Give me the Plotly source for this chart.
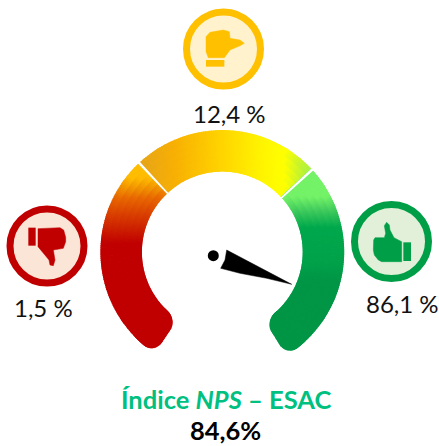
import math
import plotly.graph_objects as go

# ---- chart values ----
categories = ["Detratores", "Neutros", "Promotores"]
shares = ["1,5 %", "12,4 %", "86,1 %"]
share_label_xy = [(43, 307), (229.5, 113), (402, 303)]
title_parts = "Índice <i>NPS</i> – ESAC"
nps_value = "84,6%"

# gauge geometry, degrees counter-clockwise from east, px radii
gauge_center = (222.3, 252)
gauge_inner, gauge_outer = 81, 121.3
gauge_start, gauge_end = 236, -58
segment_edges = [133, 42.5]
corner = 13

# colour ramps: (pixel position, colour)
red_ramp = [(160, "#FFC000"), (177, "#FFBC00"), (188, "#F09000"), (197, "#E86800"), (215, "#D83C00"), (243, "#C00000"), (360, "#C00000")]
yellow_ramp = [(138, "#E4A41C"), (175, "#F8B004"), (222, "#FFD400"), (262, "#FFF400"), (285, "#FFFF00"), (300, "#C8F42C"), (315, "#98F050")]
green_ramp = [(165, "#74F268"), (197, "#74F268"), (212, "#3CC85C"), (228, "#00A84C"), (262, "#00A24A"), (282, "#009646"), (360, "#009646")]

circle_centers = [(47, 246), (223.5, 49), (391.5, 241.5)]
circle_radius = 37
circle_fill = ["#FBE5D6", "#FFF2CC", "#E2F0D9"]
circle_edge = ["#C00000", "#FFC000", "#009E47"]

# icon outlines in the 3x crop coordinates
icon_origin = [(0, 200), (180, 5), (345, 195)]
icon_hands = [
    [(114, 86), (180, 83), (191, 90), (197, 112), (197, 125), (190, 145), (160, 150), (165, 180), (160, 197), (150, 195), (147, 180), (130, 160), (114, 140)],
    [(78, 95), (90, 82), (130, 75), (148, 80), (150, 100), (180, 105), (193, 115), (180, 122), (150, 135), (133, 158), (85, 158), (78, 140)],
    [(118, 92), (125, 82), (133, 90), (135, 105), (147, 128), (170, 140), (170, 200), (110, 200), (100, 195), (88, 180), (85, 165), (86, 135), (90, 128), (118, 128), (122, 115)],
]
icon_cuffs = [(85, 83, 107, 137), (78, 165, 133, 185), (175, 142, 198, 198)]

needle_x = [226.7, 291.7, 266.7, 240, 220.7, 225, 226.7]
needle_y = [250, 284.3, 278.3, 273.3, 268.3, 260, 250]
hub = (213.3, 255.7)
hub_radius = 5.5


def hex2rgb(h):
    return tuple(int(h[i:i + 2], 16) for i in (1, 3, 5))


def ramp(stops, v):
    if v <= stops[0][0]:
        return stops[0][1]
    for (a, ca), (b, cb) in zip(stops, stops[1:]):
        if v <= b:
            t = (v - a) / (b - a)
            A, B = hex2rgb(ca), hex2rgb(cb)
            return "#%02X%02X%02X" % tuple(round(p + (q - p) * t) for p, q in zip(A, B))
    return stops[-1][1]


def inset(deg_from_end, radius):
    d = deg_from_end * math.pi / 180 * radius
    if d >= corner:
        return 0.0
    return corner - math.sqrt(corner ** 2 - (corner - d) ** 2)


theta, base, height, width, colors = [], [], [], [], []
n_radial = 6
edge_zone = 12  # degrees with fine slices at each rounded end
angles = []
a = gauge_start
while a > gauge_end + 1e-6:
    s = 0.25 if (gauge_start - a < edge_zone or a - gauge_end < edge_zone) else 1.0
    angles.append((a - s / 2, s))
    a -= s

for th, s in angles:
    gap = min(gauge_start - th, th - gauge_end)
    r0 = gauge_inner + inset(gap, gauge_inner)
    r1 = gauge_outer - inset(gap, gauge_outer)
    dr = (r1 - r0) / n_radial
    for j in range(n_radial):
        r = r0 + (j + 0.5) * dr
        x = gauge_center[0] + r * math.cos(math.radians(th))
        y = gauge_center[1] - r * math.sin(math.radians(th))
        if th > segment_edges[0]:
            c = ramp(red_ramp, y)
        elif th > segment_edges[1]:
            c = ramp(yellow_ramp, x)
        else:
            c = ramp(green_ramp, y)
        theta.append(th)
        base.append(r0 + j * dr)
        height.append(dr)
        width.append(s)
        colors.append(c)

fig = go.Figure()
fig.add_trace(go.Barpolar(theta=theta, base=base, r=height, width=width, opacity=1,
                          marker=dict(color=colors, opacity=1, line=dict(color=colors, width=1.2)),
                          hoverinfo="skip", showlegend=False, subplot="polar"))
fig.add_trace(go.Barpolar(theta=segment_edges, base=[gauge_inner - 2] * 2, r=[gauge_outer - gauge_inner + 4] * 2,
                          width=[1.2, 1.2], opacity=1, marker=dict(color="#FFFFFF", opacity=1, line=dict(width=0)),
                          hoverinfo="skip", showlegend=False, subplot="polar"))

fig.add_trace(go.Scatter(x=needle_x, y=needle_y, mode="lines", fill="toself", fillcolor="#000000",
                         line=dict(color="#000000", width=0.5), hoverinfo="skip", showlegend=False))

shapes = [dict(type="circle", xref="x", yref="y", x0=hub[0] - hub_radius, x1=hub[0] + hub_radius,
               y0=hub[1] - hub_radius, y1=hub[1] + hub_radius, fillcolor="#000000", line=dict(width=0))]
for k in range(3):
    cx, cy = circle_centers[k]
    shapes.append(dict(type="circle", xref="x", yref="y", x0=cx - circle_radius, x1=cx + circle_radius,
                       y0=cy - circle_radius, y1=cy + circle_radius, fillcolor=circle_fill[k],
                       line=dict(color=circle_edge[k], width=7), layer="below"))
    ox, oy = icon_origin[k]
    xs = [ox + p[0] / 3 for p in icon_hands[k]]
    ys = [oy + p[1] / 3 for p in icon_hands[k]]
    fig.add_trace(go.Scatter(x=xs + xs[:1], y=ys + ys[:1], mode="lines", fill="toself", fillcolor=circle_edge[k],
                             line=dict(color=circle_edge[k], width=0.5), hoverinfo="skip", showlegend=False))
    a_, b, c_, d = icon_cuffs[k]
    shapes.append(dict(type="rect", xref="x", yref="y", x0=ox + a_ / 3, x1=ox + c_ / 3, y0=oy + b / 3, y1=oy + d / 3,
                       fillcolor=circle_edge[k], line=dict(width=0)))

font = "Lato, Carlito, Calibri, sans-serif"
annotations = [dict(x=x, y=y, xref="x", yref="y", text=t, showarrow=False, xanchor="center", yanchor="middle",
                    font=dict(family=font, size=24, color="#111111"))
               for t, (x, y) in zip(shares, share_label_xy)]
annotations.append(dict(x=225.5, y=399, xref="x", yref="y", text="<b>" + title_parts + "</b>", showarrow=False,
                        font=dict(family=font, size=25.5, color="#00C07F"), xanchor="center", yanchor="middle"))
annotations.append(dict(x=225, y=430, xref="x", yref="y", text="<b>" + nps_value + "</b>", showarrow=False,
                        font=dict(family=font, size=25.5, color="#000000"), xanchor="center", yanchor="middle"))

pad = 125
W, H = 439, 446
fig.update_layout(
    width=W, height=H, margin=dict(l=0, r=0, t=0, b=0), autosize=False,
    paper_bgcolor="#FFFFFF", plot_bgcolor="rgba(0,0,0,0)", showlegend=False,
    xaxis=dict(range=[0, W], visible=False, fixedrange=True),
    yaxis=dict(range=[H, 0], visible=False, fixedrange=True),
    shapes=shapes, annotations=annotations,
    polar=dict(
        domain=dict(x=[(gauge_center[0] - pad) / W, (gauge_center[0] + pad) / W],
                    y=[1 - (gauge_center[1] + pad) / H, 1 - (gauge_center[1] - pad) / H]),
        bgcolor="rgba(0,0,0,0)", barmode="overlay",
        radialaxis=dict(range=[0, pad], visible=False),
        angularaxis=dict(visible=False, direction="counterclockwise", rotation=0),
    ),
)
fig.write_html("out.html", config=dict(displayModeBar=False),
               post_script="document.body.style.margin='0';document.body.style.overflow='hidden';")
